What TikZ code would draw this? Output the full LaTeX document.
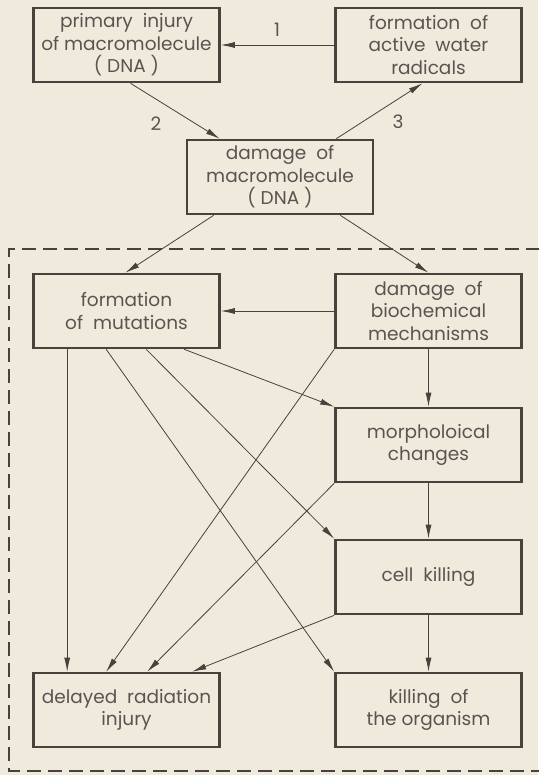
\documentclass[tikz,border=0pt]{standalone}
\usepackage{fontspec}
\setmainfont{Poppins}
\usepackage{tikz}
\usepackage{xcolor}
\usetikzlibrary{calc, arrows.meta}

\definecolor{paper}{HTML}{F0EADD}
\definecolor{ink}{HTML}{4A403C}

\tikzset{
  box/.style={draw=ink, line width=2.6pt, minimum width=186pt, minimum height=74pt,
    inner sep=0pt, align=center, text=ink!90, font=\fontsize{18.5}{22.5}\selectfont},
  link/.style={draw=ink, line width=0.8pt, -{Latex[length=14pt,width=6pt]}},
  num/.style={text=ink!90, font=\fontsize{18.5}{22.5}\selectfont},
  dashframe/.style={draw=ink, line width=1.6pt, dash pattern=on 14pt off 7pt}
}

\begin{document}
\begin{tikzpicture}[x=1pt, y=-1pt]
      \fill[paper] (0,0) rectangle (538,775);
      \useasboundingbox (0,0) rectangle (538,775);

      \node[box] (prim) at (126.5, 45) {primary\ \ injury\\of macromolecule\\( DNA )};
      \node[box] (wat)  at (428.5, 45) {formation\ \ of\\active\ \ water\\radicals};
      \node[box] (dna)  at (280, 177) {damage\ \ of\\macromolecule\\( DNA\ )};

      \node[box] (mut)  at (126.5, 311) {formation\\of\ \ mutations};
      \node[box] (bio)  at (428.5, 311) {damage\ \ of\\biochemical\\mechanisms};
      \node[box] (mor)  at (428.5, 445) {morpholoical\\changes};
      \node[box] (cel)  at (428.5, 577) {cell\ \ killing};
      \node[box] (del)  at (126.5, 710) {delayed\ \ radiation\\injury};
      \node[box] (org)  at (428.5, 710) {killing\ \ of\\the organism};

      % primary stage
      \draw[link] (wat) -- (prim);
      \draw[link] ($(prim.south)+(4,0)$) -- ($(dna.north west)+(34,0)$);
      \draw[link] ($(dna.north east)+(-38,0)$) -- ($(wat.south)+(-6,0)$);
      \node[num] (n1) at (277, 30) {1};
      \node[num] (n2) at (156, 124) {2};
      \node[num] (n3) at (398, 122) {3};

      \draw[link] ($(dna.south west)+(28,0)$) -- ($(mut.north)+(-1,0)$);
      \draw[link] ($(dna.south east)+(-34,0)$) -- (bio.north);

      \draw[link] (bio) -- (mut);
      \draw[link] (bio) -- (mor);
      \draw[link] (mor) -- (cel);
      \draw[link] (cel) -- (org);

      \foreach \dx/\tgt in {152/mor, 114/cel, 74/org} {
          \draw[link] ($(mut.south west)+(\dx,0)$) -- (\tgt.north west);
      }
      \draw[link] ($(mut.south west)+(35,0)$) -- ($(del.north west)+(35,0)$);

      \foreach \src/\dx in {bio/74, mor/115, cel/160} {
          \draw[link] (\src.south west) -- ($(del.north west)+(\dx,0)$);
      }

      \draw[dashframe] (540,249) -- (9,249) -- (9,771) -- (540,771);
    \end{tikzpicture}
\end{document}
